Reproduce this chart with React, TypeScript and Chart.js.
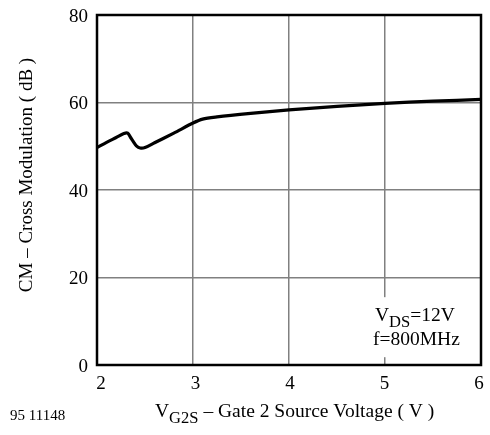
import React, { useEffect, useRef } from "react";
import { Chart, registerables } from "chart.js";

Chart.register(...registerables);

// Cross modulation vs gate-2 source voltage
const vg2s: number[] = [2.0, 2.1, 2.2, 2.28, 2.32, 2.35, 2.38, 2.41, 2.45, 2.5, 2.6, 2.8, 3.0, 3.1, 3.25, 3.6, 4.0, 4.5, 5.0, 5.5, 6.0];
const cmDb: number[] = [49.7, 50.9, 52.0, 52.9, 53.0, 52.0, 51.0, 50.1, 49.6, 49.7, 50.8, 53.0, 55.3, 56.2, 56.7, 57.5, 58.3, 59.1, 59.8, 60.3, 60.7];
const xTicks: number[] = [2, 3, 4, 5, 6];
const yTicks: number[] = [0, 20, 40, 60, 80];

const SERIF = "'Liberation Serif', 'Times New Roman', serif";

type Run = { text: string; sub?: boolean };

function drawRuns(ctx: CanvasRenderingContext2D, runs: Run[], x: number, y: number, size: number) {
  let cx = x;
  for (const r of runs) {
    const s = r.sub ? size * 0.85 : size;
    ctx.font = `${s}px ${SERIF}`;
    ctx.fillText(r.text, cx, r.sub ? y + size * 0.3 : y);
    cx += ctx.measureText(r.text).width;
  }
}

const labelsPlugin = {
  id: "labels",
  beforeDatasetsDraw(chart: any) {
    const { ctx, scales } = chart;
    const xs = scales.x;
    const ys = scales.y;
    // white box behind the condition note
    ctx.save();
    ctx.fillStyle = "#fff";
    ctx.fillRect(xs.getPixelForValue(4.8), ys.getPixelForValue(15.5), 102, 60);
    ctx.restore();
  },
  afterDraw(chart: any) {
    const { ctx, chartArea, scales } = chart;
    const xs = scales.x;
    const ys = scales.y;
    ctx.save();
    ctx.fillStyle = "#000";
    ctx.textBaseline = "alphabetic";

    // tick labels
    ctx.font = `19px ${SERIF}`;
    ctx.textAlign = "center";
    for (const v of xTicks) {
      const shift = 4 - 1.5 * (v - xTicks[0]);
      ctx.fillText(String(v), xs.getPixelForValue(v) + shift, chartArea.bottom + 24);
    }
    ctx.textAlign = "right";
    for (const v of yTicks) ctx.fillText(String(v), chartArea.left - 9, ys.getPixelForValue(v) + 6.5);

    ctx.textAlign = "left";
    // condition note
    drawRuns(ctx, [{ text: "V" }, { text: "DS", sub: true }, { text: "=12V" }], 375, 321, 19.5);
    drawRuns(ctx, [{ text: "f=800MHz" }], 373, 345, 19.5);

    // x-axis title
    drawRuns(ctx, [{ text: "V" }, { text: "G2S", sub: true }, { text: " \u2013 Gate 2 Source Voltage ( V )" }], 155, 417, 19.5);

    // drawing number
    ctx.font = `15px ${SERIF}`;
    ctx.fillText("95 11148", 10, 420);

    // y-axis title
    ctx.translate(32, 175);
    ctx.rotate(-Math.PI / 2);
    ctx.textAlign = "center";
    ctx.font = `19px ${SERIF}`;
    ctx.fillText("CM \u2013 Cross Modulation ( dB )", 0, 0);
    ctx.restore();

    // heavy frame
    ctx.save();
    ctx.strokeStyle = "#000";
    ctx.lineWidth = 2.5;
    ctx.strokeRect(chartArea.left, chartArea.top, chartArea.right - chartArea.left, chartArea.bottom - chartArea.top);
    ctx.restore();
  },
};

export default function App() {
  const ref = useRef<HTMLCanvasElement>(null);

  useEffect(() => {
    document.body.style.margin = "0";
    const canvas = ref.current;
    if (!canvas) return;
    const chart = new Chart(canvas, {
      type: "line",
      data: {
        datasets: [
          {
            data: vg2s.map((x, i) => ({ x, y: cmDb[i] })),
            borderColor: "#000",
            borderWidth: 3.2,
            pointRadius: 0,
            tension: 0.3,
            fill: false,
          },
        ],
      },
      options: {
        animation: false,
        responsive: false,
        devicePixelRatio: 1,
        layout: { padding: { top: 15, right: 9, left: 0, bottom: 0 } },
        plugins: { legend: { display: false }, tooltip: { enabled: false } },
        scales: {
          x: {
            type: "linear",
            min: 2,
            max: 6,
            afterBuildTicks: (s: any) => {
              s.ticks = xTicks.map((v) => ({ value: v }));
            },
            afterFit: (s: any) => {
              s.height = 70;
            },
            grid: { color: "#808080", lineWidth: 1.5, drawTicks: false },
            border: { display: false },
            ticks: { display: false },
          },
          y: {
            min: 0,
            max: 80,
            afterBuildTicks: (s: any) => {
              s.ticks = yTicks.map((v) => ({ value: v }));
            },
            afterFit: (s: any) => {
              s.width = 97;
            },
            grid: { color: "#808080", lineWidth: 1.5, drawTicks: false },
            border: { display: false },
            ticks: { display: false },
          },
        },
      },
      plugins: [labelsPlugin],
    });
    return () => chart.destroy();
  }, []);

  return <canvas ref={ref} width={490} height={435} style={{ display: "block" }} />;
}
